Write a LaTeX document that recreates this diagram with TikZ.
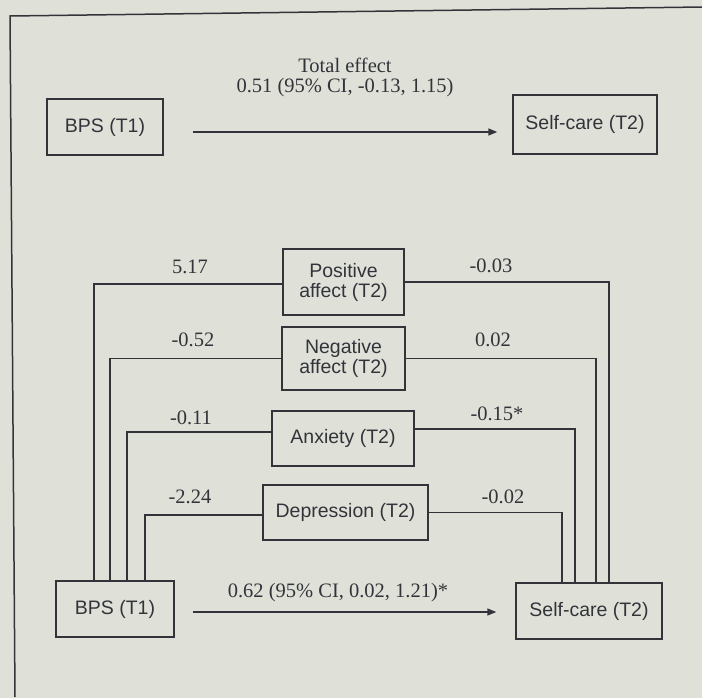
\documentclass[tikz,border=0pt]{standalone}
\usepackage{fontspec}
\setmainfont{Liberation Serif}
\newfontfamily\boxfont{Liberation Sans}
\usetikzlibrary{arrows.meta}
\definecolor{bgin}{RGB}{223,225,217}
\definecolor{bgout}{RGB}{138,134,138}
\definecolor{ink}{RGB}{50,52,58}
\pgfdeclareradialshading{vign}{\pgfpoint{0bp}{0bp}}{color(0bp)=(bgin); color(42bp)=(bgin); color(71bp)=(bgout)}
\begin{document}
\begin{tikzpicture}[x=1pt,y=-1pt,
  box/.style={draw=ink, line width=1.4pt, text=ink, font=\boxfont\fontsize{19.5}{20}\selectfont, inner sep=0pt, align=center},
  lab/.style={text=ink, font=\fontsize{20.5}{21}\selectfont, inner sep=0pt},
  conn/.style={draw=ink, line width=1.5pt},
  arr/.style={conn, -{Triangle[length=9pt,width=7pt]}}]
\useasboundingbox (0,0) rectangle (702,697);
\shade[shading=vign] (0,0) rectangle (702,697);
% frame
\coordinate (fa) at (702,7);
\coordinate (fb) at (10,16);
\coordinate (fc) at (15,697);
\draw[conn] (fa) -- (fb) -- (fc);
% top model
\node[box, minimum width=116, minimum height=56] (bps1) at (105,127) {BPS (T1)};
\node[box, minimum width=144, minimum height=59] (sc1) at (585,124.5) {Self-care (T2)};
\coordinate (ya) at (0,132);
\draw[arr, shorten <=29pt, shorten >=15pt] (bps1.east |- ya) -- (sc1.west |- ya);
\node[lab] (te) at (345,65) {Total effect};
\node[lab] (tci) at (345,88) {0.51 (95\% CI, -0.13, 1.15)};
% mediation model
\node[box, minimum width=121, minimum height=66] (pos) at (343.5,282) {Positive\\affect (T2)};
\node[box, minimum width=123, minimum height=63] (neg) at (343.5,358.5) {Negative\\affect (T2)};
\node[box, minimum width=142, minimum height=55] (anx) at (343,438.5) {Anxiety (T2)};
\node[box, minimum width=165, minimum height=55] (dep) at (345.5,512.5) {Depression (T2)};
\node[box, minimum width=118, minimum height=56] (bps2) at (115,609) {BPS (T1)};
\node[box, minimum width=146, minimum height=56] (sc2) at (589,611) {Self-care (T2)};
% vertical lane positions
\coordinate (l1) at (94,0);
\coordinate (l2) at (110,0);
\coordinate (l3) at (127,0);
\coordinate (l4) at (145,0);
\coordinate (r1) at (609,0);
\coordinate (r2) at (596,0);
\coordinate (r3) at (575,0);
\coordinate (r4) at (562,0);
% a paths
\draw[conn] (bps2.north -| l1) |- ([yshift=-2pt]pos.west);
\draw[conn] (bps2.north -| l2) |- (neg.west);
\draw[conn] (bps2.north -| l3) |- ([yshift=6.5pt]anx.west);
\draw[conn] (bps2.north -| l4) |- ([yshift=-2.5pt]dep.west);
% b paths
\draw[conn] (pos.east) -| (sc2.north -| r1);
\draw[conn] (neg.east) -| (sc2.north -| r2);
\draw[conn] ([yshift=9.5pt]anx.east) -| (sc2.north -| r3);
\draw[conn] (dep.east) -| (sc2.north -| r4);
% direct effect
\coordinate (yb) at (0,612);
\draw[arr, shorten <=18pt, shorten >=19pt] (bps2.east |- yb) -- (sc2.west |- yb);
\node[lab] (dci) at (338,593) {0.62 (95\% CI, 0.02, 1.21)*};
% coefficients
\node[lab] (a1) at (190,267) {5.17};
\node[lab] (a2) at (193,340) {-0.52};
\node[lab] (a3) at (191,418) {-0.11};
\node[lab] (a4) at (190,497) {-2.24};
\node[lab] (b1) at (491,266) {-0.03};
\node[lab] (b2) at (493,340) {0.02};
\node[lab] (b3) at (497,414) {-0.15*};
\node[lab] (b4) at (503,497) {-0.02};
\end{tikzpicture}
\end{document}
